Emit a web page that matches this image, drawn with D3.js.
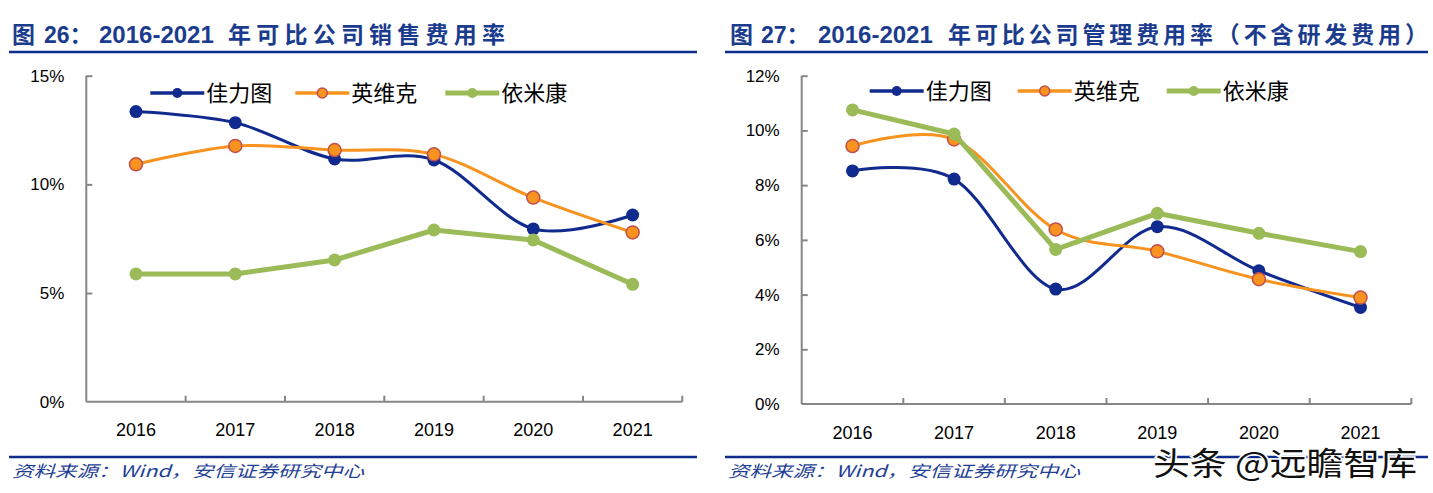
<!DOCTYPE html>
<html><head><meta charset="utf-8">
<script src="https://cdn.jsdelivr.net/npm/d3@7"></script>
<style>
html,body{margin:0;padding:0;background:#fff;}
svg{display:block;}
</style></head>
<body>
<svg id="c" width="1433" height="493"></svg>
<script>
// ---- data ----
const years = ["2016","2017","2018","2019","2020","2021"];
const seriesNames = ["佳力图","英维克","依米康"];
// Chart 26: selling expense ratio (%)
const sales_jialitu = [13.35, 12.84, 11.17, 11.12, 7.95, 8.59];
const sales_yingweike = [10.92, 11.77, 11.58, 11.38, 9.39, 7.79];
const sales_yimikang = [5.88, 5.88, 6.52, 7.90, 7.44, 5.40];
const salesTicks = [0, 5, 10, 15];
// Chart 27: admin expense ratio excl. R&D (%)
const admin_jialitu = [8.52, 8.22, 4.20, 6.48, 4.87, 3.53];
const admin_yingweike = [9.43, 9.67, 6.38, 5.58, 4.56, 3.89];
const admin_yimikang = [10.75, 9.87, 5.65, 6.97, 6.24, 5.57];
const adminTicks = [0, 2, 4, 6, 8, 10, 12];
const title26 = ["图 ", "26：", "2016-2021", "年可比公司销售费用率"];
const title27 = ["图 ", "27：", "2016-2021", "年可比公司管理费用率（不含研发费用）"];
const sourceText = "资料来源：Wind，安信证券研究中心";
const watermark = "头条 @远瞻智库";

// ---- styles ----
const styles = [
  {color:"#112A8E", width:3, r:6.5, stroke:null, smooth:true},
  {color:"#F7931E", width:3, r:6.5, stroke:"#C0504D", smooth:true},
  {color:"#9BBB59", width:5, r:6.5, stroke:null, smooth:false}
];
const navy = "#0D2C8C";
const svg = d3.select("#c");
const cjk = "'Noto Sans CJK SC', sans-serif";
const num = "'Liberation Sans', Arial, sans-serif";

function drawChart(cfg){
  const g = svg.append("g");
  // title
  const t = g.append("text").attr("y", 43).attr("fill", "#1B3C8E")
    .attr("font-weight", "bold").attr("font-size", 23);
  t.append("tspan").attr("x", cfg.tx[0]).attr("font-family", cjk).text(cfg.title[0]);
  t.append("tspan").attr("x", cfg.tx[1]).attr("font-family", num).text(cfg.title[1].slice(0,2));
  t.append("tspan").attr("font-family", cjk).text(cfg.title[1].slice(2));
  t.append("tspan").attr("x", cfg.tx[2]).attr("font-family", num).attr("font-size", 24).text(cfg.title[2]);
  t.append("tspan").attr("x", cfg.tx[3]).attr("font-family", cjk)
    .attr("textLength", cfg.tx[4] - cfg.tx[3]).attr("lengthAdjust", "spacing").text(cfg.title[3]);
  // rules
  g.append("line").attr("x1", cfg.rule[0]).attr("x2", cfg.rule[1]).attr("y1", 52).attr("y2", 52)
    .attr("stroke", navy).attr("stroke-width", 2.5);
  g.append("line").attr("x1", cfg.rule[0]).attr("x2", cfg.rule[1]).attr("y1", 457).attr("y2", 457)
    .attr("stroke", navy).attr("stroke-width", 2.5);
  g.append("text").attr("x", cfg.rule[0] + 3).attr("y", 477).attr("font-family", cjk)
    .attr("font-style", "italic").attr("font-size", 16).attr("fill", "#1F3F95")
    .attr("textLength", 352).attr("lengthAdjust", "spacingAndGlyphs").text(sourceText);

  const x = d3.scaleBand().domain(years).range([cfg.x0, cfg.x1]);
  const y = d3.scaleLinear().domain([0, cfg.ymax]).range([cfg.y0, 75.7]);

  // axes
  const axisColor = "#868686";
  const ya = g.append("g").attr("transform", `translate(${cfg.x0},0)`)
    .call(d3.axisLeft(y).tickValues(cfg.ticks).tickSize(-6).tickPadding(22).tickFormat(d => d + "%"));
  const xa = g.append("g").attr("transform", `translate(0,${cfg.y0})`)
    .call(d3.axisBottom(x).tickSize(0).tickPadding(22));
  [ya, xa].forEach(a => {
    a.select(".domain").attr("stroke", axisColor).attr("stroke-width", 2);
    a.selectAll(".tick line").attr("stroke", axisColor).attr("stroke-width", 2);
    a.selectAll("text").attr("font-family", num).attr("fill", "#000");
  });
  ya.select(".domain").attr("d", `M0,${cfg.y0}V75.7`);
  ya.selectAll(".tick line").attr("x2", d => d === 0 ? 0 : 6);
  ya.selectAll("text").attr("font-size", 17);
  xa.select(".domain").attr("d", `M${cfg.x0},0H${cfg.x1}`);
  xa.selectAll("text").attr("font-size", 18);
  // category boundary ticks (inward)
  const bounds = years.slice(1).map(d => x(d)).concat([cfg.x1]);
  xa.selectAll(".bt").data(bounds).enter().append("line")
    .attr("x1", d => d).attr("x2", d => d).attr("y1", 0).attr("y2", -6)
    .attr("stroke", axisColor).attr("stroke-width", 2);

  const cx = d => x(d) + x.bandwidth() / 2;
  cfg.series.forEach((vals, i) => {
    const s = styles[i];
    const line = d3.line().x((d, j) => cx(years[j])).y(d => y(d))
      .curve(s.smooth ? d3.curveCardinal.tension(0) : d3.curveLinear);
    g.append("path").datum(vals).attr("d", line).attr("fill", "none")
      .attr("stroke", s.color).attr("stroke-width", s.width)
      .attr("stroke-linejoin", "round").attr("stroke-linecap", "round");
    g.selectAll(".m" + i).data(vals).enter().append("circle")
      .attr("cx", (d, j) => cx(years[j])).attr("cy", d => y(d)).attr("r", s.r)
      .attr("fill", s.color).attr("stroke", s.stroke || "none").attr("stroke-width", 1.5);
  });

  // legend
  seriesNames.forEach((n, i) => {
    const s = styles[i];
    const lx = cfg.x0 + cfg.leg[i], ly = cfg.legY;
    g.append("line").attr("x1", lx).attr("x2", lx + 54).attr("y1", ly).attr("y2", ly)
      .attr("stroke", s.color).attr("stroke-width", i === 2 ? 5 : 3.5);
    g.append("circle").attr("cx", lx + 27).attr("cy", ly).attr("r", 5)
      .attr("fill", s.color).attr("stroke", s.stroke || "none").attr("stroke-width", 1.5);
    g.append("text").attr("x", lx + 56).attr("y", ly).attr("dy", "0.36em")
      .attr("font-family", cjk).attr("font-size", 22).attr("fill", "#000").text(n);
  });
}

drawChart({
  title: title26, tx: [12, 44, 99, 228, 505], rule: [9, 697],
  x0: 86.3, x1: 682.3, y0: 401.7, ymax: 15, ticks: salesTicks,
  series: [sales_jialitu, sales_yingweike, sales_yimikang],
  leg: [64, 209, 359], legY: 93
});
drawChart({
  title: title27, tx: [730, 761, 818, 948, 1428], rule: [725, 1428],
  x0: 801.7, x1: 1411.3, y0: 404, ymax: 12, ticks: adminTicks,
  series: [admin_jialitu, admin_yingweike, admin_yimikang],
  leg: [68, 216, 365], legY: 91
});

// watermark
svg.append("text").attr("x", 1153).attr("y", 475).attr("font-family", cjk)
  .attr("font-size", 32).attr("fill", "#111").attr("stroke", "#fff").attr("stroke-width", 3)
  .attr("paint-order", "stroke").attr("textLength", 264).attr("lengthAdjust", "spacingAndGlyphs")
  .text(watermark);
</script>
</body></html>
